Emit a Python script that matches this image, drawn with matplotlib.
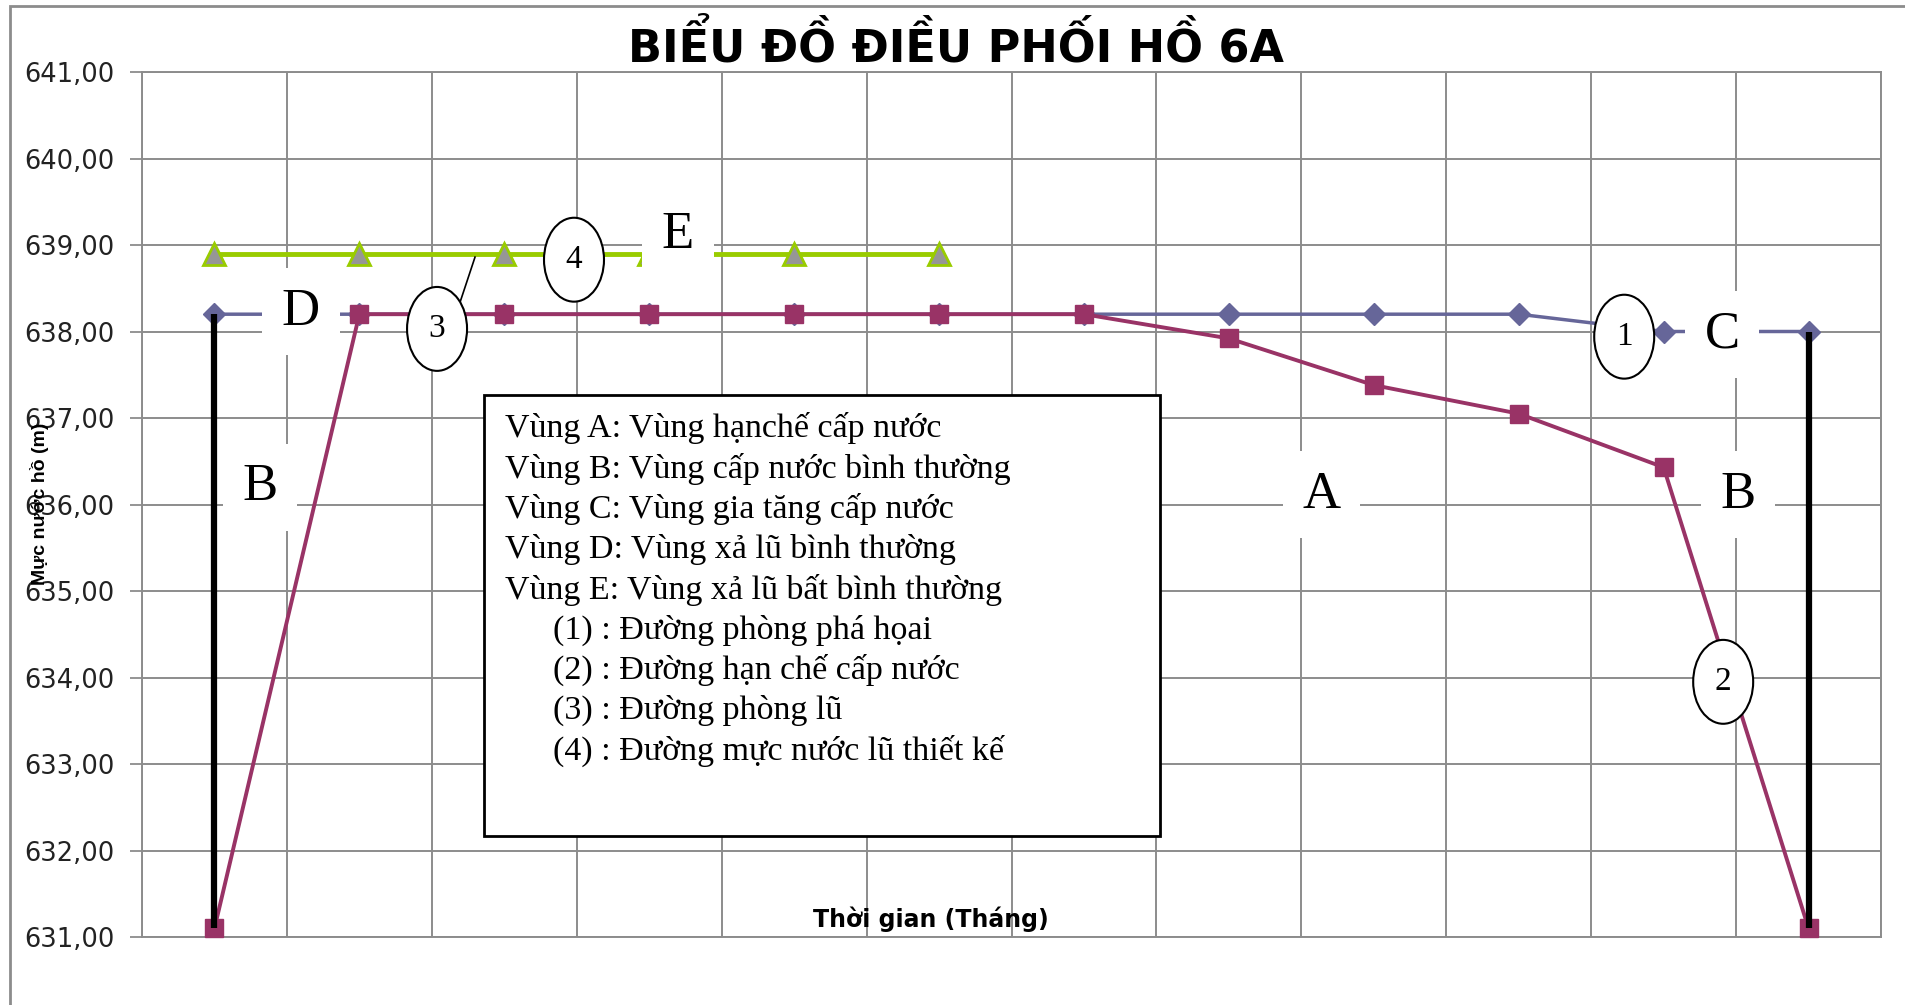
import matplotlib.pyplot as plt
from matplotlib.patches import Ellipse, Rectangle

# Data (12 months, category axis)
months = list(range(12))
phong_pha_hoai = [638.20, 638.20, 638.20, 638.20, 638.20, 638.20,
                  638.20, 638.20, 638.20, 638.20, 638.00, 638.00]   # (1)
han_che_cap_nuoc = [631.10, 638.20, 638.20, 638.20, 638.20, 638.20,
                    638.20, 637.92, 637.38, 637.05, 636.43, 631.10]  # (2)
lu_months = [0, 1, 2, 3, 4, 5]
lu_thiet_ke = [638.90, 638.90, 638.90, 638.90, 638.90, 638.90]      # (4)
bien_trai_x = [0, 0]
bien_trai_y = [638.20, 631.10]
bien_phai_x = [11, 11]
bien_phai_y = [638.00, 631.10]

y_ticks = [631, 632, 633, 634, 635, 636, 637, 638, 639, 640, 641]
y_labels = ['%d,00' % v for v in y_ticks]

legend_lines = [
    'Vùng A: Vùng hạnchế cấp nước',
    'Vùng B: Vùng cấp nước bình thường',
    'Vùng C: Vùng gia tăng cấp nước',
    'Vùng D: Vùng xả lũ bình thường',
    'Vùng E: Vùng xả lũ bất bình thường',
    '(1) : Đường phòng phá họai',
    '(2) : Đường hạn chế cấp nước',
    '(3) : Đường phòng lũ',
    '(4) : Đường mực nước lũ thiết kế',
]

SERIF = 'Liberation Serif'
GRID = '#8c8c8c'

W, H = 1905, 1005
fig = plt.figure(figsize=(W / 100, H / 100), dpi=100)
ax = fig.add_axes([142 / W, 1 - 937 / H, 1739 / W, 865 / H])

# chart area border (cropped at right/bottom)
fig.patches.append(Rectangle((10 / W, -0.05), 1.2, 1 - 6 / H + 0.05, transform=fig.transFigure,
                             fill=False, edgecolor=GRID, lw=2))

ax.set_xlim(-0.5, 11.5)
ax.set_ylim(631, 641)
ax.set_xticks([m - 0.5 for m in range(13)])
ax.set_xticklabels([])
ax.tick_params(axis='x', length=0)
ax.set_yticks(y_ticks)
ax.set_yticklabels(y_labels, fontsize=18.5, color='#222222')
ax.tick_params(axis='y', length=9, width=1.3, color=GRID, pad=11)
ax.grid(True, color=GRID, lw=1.4)
ax.set_axisbelow(True)
for s in ax.spines.values():
    s.set_color(GRID)
    s.set_linewidth(1.4)

ax.plot(months, phong_pha_hoai, color='#666699', lw=2.5, marker='D', markersize=11,
        mfc='#666699', mec='#666699', zorder=3)
ax.plot(months, han_che_cap_nuoc, color='#993366', lw=2.8, marker='s', markersize=13,
        mfc='#993366', mec='#993366', zorder=4, clip_on=False)
ax.plot(lu_months, lu_thiet_ke, color='#99CC00', lw=3.5, marker='^', markersize=16,
        mfc='#969696', mec='#99CC00', mew=2, zorder=3)
ax.plot(bien_trai_x, bien_trai_y, color='black', lw=4.5, zorder=5, solid_capstyle='butt')
ax.plot(bien_phai_x, bien_phai_y, color='black', lw=4.5, zorder=5, solid_capstyle='butt')

# zone letters on white boxes
box = dict(facecolor='white', edgecolor='none', pad=14)
for txt, x, y in [('D', 0.597, 638.08), ('E', 3.199, 638.97), ('B', 0.314, 636.05),
                  ('A', 7.637, 635.96), ('B', 10.515, 635.96), ('C', 10.404, 637.81)]:
    ax.text(x, y, txt, fontsize=38, family=SERIF, ha='center', va='baseline',
            bbox=box, zorder=6)

# leader line of (3)
ax.plot([1.695, 1.798], [638.34, 638.86], color='black', lw=1.2, zorder=6)

# numbered ellipses
for txt, x, y in [('3', 1.536, 638.03), ('4', 2.481, 638.83),
                  ('1', 9.728, 637.94), ('2', 10.411, 633.95)]:
    ax.add_patch(Ellipse((x, y), 0.414, 0.97, facecolor='white', edgecolor='black',
                         lw=1.5, zorder=7))
    ax.text(x, y, txt, fontsize=24, family=SERIF, ha='center', va='center', zorder=8)

# explanation box
ax.add_patch(Rectangle((1.860, 632.17), 6.525 - 1.860, 637.27 - 632.17, facecolor='white',
                       edgecolor='black', lw=2, zorder=6))
for i, line in enumerate(legend_lines):
    x = 2.005 if i < 5 else 2.336
    ax.text(x, 636.88 - i * 0.466, line, fontsize=24.5, family=SERIF, ha='left',
            va='center', zorder=7)

fig.text(956 / W, 1 - 61 / H, 'BIỂU ĐỒ ĐIỀU PHỐI HỒ 6A', fontsize=32, fontweight='bold',
         ha='center', va='baseline')
ax.text(4.945, 631.2, 'Thời gian (Tháng)', fontsize=17, fontweight='bold', ha='center',
        va='center', zorder=3)
fig.text(40 / W, 1 - 504 / H, 'Mực nước hồ (m)', fontsize=14, fontweight='bold',
         family='Liberation Sans', rotation=90, ha='center', va='center')

fig.savefig('out.png', dpi=100)
